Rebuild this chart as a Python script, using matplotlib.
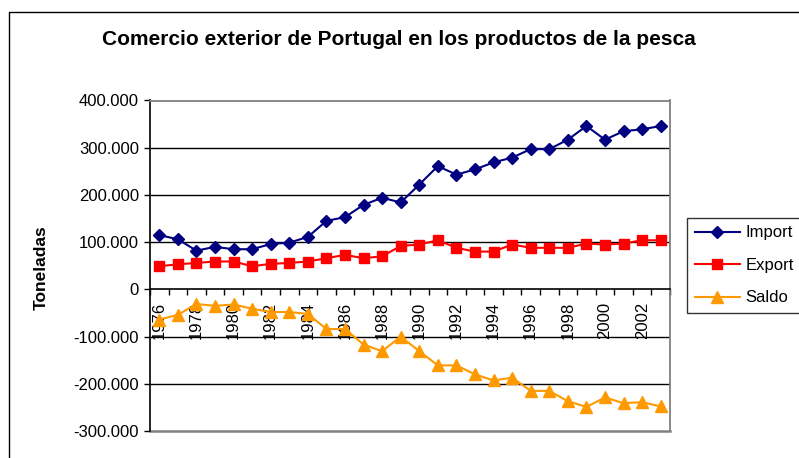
import numpy as np
import matplotlib
matplotlib.use("Agg")
import matplotlib.pyplot as plt
from matplotlib.ticker import FixedLocator, FuncFormatter, NullFormatter
from matplotlib.lines import Line2D

plt.rcParams['font.family'] = ['Liberation Sans', 'DejaVu Sans']

years = list(range(1976, 2004))
tick_years = [str(y) if y % 2 == 0 else "" for y in years]
import_vals = [115000, 106000, 82000, 90000, 85000, 85000, 96000, 99000, 111000, 145000,
               153000, 179000, 194000, 184000, 222000, 261000, 243000, 254000, 269000, 279000,
               297000, 297000, 317000, 346000, 317000, 335000, 339000, 346000]
export_vals = [49000, 53000, 56000, 59000, 59000, 49000, 54000, 56000, 59000, 66000,
               73000, 66000, 70000, 92000, 95000, 104000, 88000, 80000, 80000, 95000,
               88000, 88000, 88000, 97000, 95000, 97000, 104000, 104000]
saldo_vals = [-64000, -54000, -31000, -35000, -32000, -41000, -48000, -48000, -52000, -84000,
              -84000, -117000, -131000, -100000, -131000, -161000, -161000, -180000, -193000, -187000,
              -215000, -215000, -237000, -249000, -229000, -241000, -239000, -248000]
series_names = ["Import", "Export", "Saldo"]
y_ticks = [-300000, -200000, -100000, 0, 100000, 200000, 300000, 400000]

W, H = 799, 458
fig = plt.figure(figsize=(W / 100, H / 100), dpi=100)
ax = fig.add_axes([150 / W, 1 - 431 / H, 520 / W, 330.5 / H])

x = np.arange(len(years))
c_imp, c_exp, c_sal = '#000080', '#FF0000', '#FF9900'
ax.plot(x, import_vals, color=c_imp, lw=1.5, marker='D', ms=6.5, mec=c_imp, label=series_names[0], zorder=5)
ax.plot(x, export_vals, color=c_exp, lw=1.5, marker='s', ms=6.8, mec=c_exp, label=series_names[1], zorder=5)
ax.plot(x, saldo_vals, color=c_sal, lw=1.5, marker='^', ms=8, mec=c_sal, label=series_names[2], zorder=5)

ax.set_xlim(-0.5, len(years) - 0.5)
ax.set_ylim(y_ticks[0], y_ticks[-1])

# gridlines
for v in y_ticks[1:-1]:
    if v != 0:
        ax.axhline(v, color='black', lw=1.0, zorder=1)

# spines
for s in ['top', 'right']:
    ax.spines[s].set_color('#808080')
    ax.spines[s].set_linewidth(1.3)
ax.spines['left'].set_color('black')
ax.spines['left'].set_linewidth(1.2)
ax.spines['bottom'].set_position(('data', 0))
ax.spines['bottom'].set_color('black')
ax.spines['bottom'].set_linewidth(1.2)
ax.axhline(y_ticks[0], color='#808080', lw=1.8, clip_on=False, zorder=2)

# y ticks
ax.yaxis.set_major_locator(FixedLocator(y_ticks))
ax.yaxis.set_major_formatter(FuncFormatter(lambda v, p: f"{v:,.0f}".replace(',', '.')))
ax.tick_params(axis='y', direction='out', length=4, width=1, pad=4, labelsize=12, colors='black')

# x ticks: boundaries as major ticks, labels at minor ticks
ax.xaxis.set_major_locator(FixedLocator(np.arange(-0.5, len(years), 1.0)))
ax.xaxis.set_major_formatter(NullFormatter())
ax.xaxis.set_minor_locator(FixedLocator(x))
ax.set_xticklabels(tick_years, minor=True)
ax.tick_params(axis='x', which='major', direction='out', length=4, width=1)
ax.tick_params(axis='x', which='minor', length=0, pad=9, labelsize=12)
for lab in ax.get_xticklabels(minor=True):
    lab.set_rotation(90)
    lab.set_va('top')
    lab.set_ha('center')

# title & label
fig.text(399 / W, 1 - 45 / H, "Comercio exterior de Portugal en los productos de la pesca",
         ha='center', va='baseline', fontsize=15, fontweight='bold')
fig.text(41 / W, 1 - 267.5 / H, "Toneladas", rotation=90, ha='center', va='center',
         fontsize=12.5, fontweight='bold')

# legend
leg = fig.legend(loc='upper left', bbox_to_anchor=(687 / W, 1 - 218 / H), frameon=True,
                 fancybox=False, edgecolor='black', fontsize=12, handlelength=2.7,
                 handletextpad=0.35, borderpad=0.45, labelspacing=1.05, borderaxespad=0)
leg.get_frame().set_linewidth(1.0)

# outer chart frame
fig.add_artist(Line2D([9 / W, 9 / W, 1.0], [0.0, 1 - 12 / H, 1 - 12 / H], color='black', lw=1.0))

fig.savefig("out.png", dpi=100)
